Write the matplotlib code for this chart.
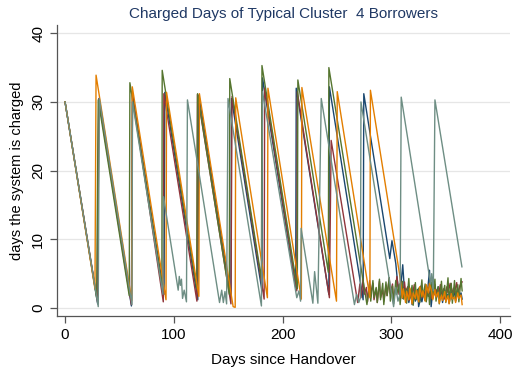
import matplotlib
matplotlib.use('Agg')
from matplotlib import pyplot as plt

plt.rcParams['font.family'] = ['Liberation Sans', 'DejaVu Sans']

# Stata s2color palette
colors = {'navy': '#1a476f', 'maroon': '#90353b', 'green': '#55752f',
          'orange': '#e37e00', 'teal': '#6e8e84'}

# (day, days charged) vertices
navy_days = [0, 30, 31, 61, 62, 91, 91.7, 122, 123, 152.5, 153, 181, 181.5,
             212, 212.5, 242.5, 243, 274, 274.6, 298.5, 300.5, 304, 306, 308,
             310.4, 312, 313, 315, 316, 318, 319, 321, 322, 324, 325, 327, 328,
             330, 331, 333, 335, 336.5, 338, 340, 341, 343, 344, 346, 347, 349,
             350, 352, 353, 355, 356, 358, 359, 361, 362, 364, 365]
navy_vals = [30, 0.6, 30.4, 0.3, 31, 2, 31.4, 1.2, 31, 1.5, 30.5, 2.5, 33.5,
             3, 32, 2, 32.2, 1.2, 31.2, 7.2, 9.8, 6.5, 3.2, 2, 6.3, 2.5, 1.2,
             2.6, 0.8, 2.2, 0.5, 1.8, 1, 2.7, 0.2, 1.6, 0.9, 2.4, 1.1, 2, 5.5,
             0.2, 2.4, 3.4, 2, 3.1, 1.4, 2.2, 0.8, 2.6, 1.5, 2, 0.7, 2.3, 1.2,
             2.5, 1, 2.8, 1.6, 2.2, 1.3]

maroon_days = [0, 30, 31, 61, 62, 90.3, 90.8, 121.2, 121.7, 152.5, 153.5, 183,
               183.5, 213, 213.5, 243, 244.6, 269, 271, 272, 274, 275, 277, 278,
               280, 281, 283, 284, 286, 287, 289, 290, 292, 293, 295, 296, 298,
               299, 301, 302, 304, 305, 307, 308, 310, 312, 313, 315, 316, 318,
               319, 321, 322, 324, 325, 327, 328, 330, 331, 333, 334, 336, 337,
               339, 340, 342, 343, 345, 346, 348, 349, 351, 352, 354, 355, 357,
               358, 360, 361, 363, 365]
maroon_vals = [30, 0.8, 30.5, 0.5, 31, 0.9, 31.2, 1, 31.1, 0.6, 30.8, 1.3,
               32, 2.5, 31.5, 1.5, 24.4, 0.8, 3.5, 1.5, 4.2, 2, 3, 0.9, 4, 2.2,
               3.6, 1.2, 2.8, 0.8, 3.9, 1.5, 2.6, 1, 3.3, 1.8, 4.4, 2.1, 3.5,
               1.2, 2.9, 4.6, 2, 3.6, 1.4, 3.8, 2.4, 3.1, 1.1, 2.7, 1.6, 3.4,
               1.3, 2.5, 1.8, 3.2, 1.5, 2.4, 1.2, 2.9, 1.7, 2.6, 1.4, 3, 1.9,
               2.7, 1.6, 3.4, 2, 2.8, 1.3, 3.1, 2.2, 3.6, 1.8, 2.9, 2.3, 3.7, 2,
               3.3, 3.8]

green_days = [0, 29, 30.5, 59, 59.6, 89, 89.3, 121, 121.8, 151, 151.4, 180.5,
              181, 213.5, 214, 242, 242.5, 277.5, 280, 281, 283, 284, 286, 287,
              289, 290, 292, 293, 295, 296, 298, 299, 301, 302, 304, 305, 307,
              308, 310, 311, 313, 314, 316, 317, 319, 320, 322, 323, 325, 326,
              328, 329, 331, 332, 334, 335, 337, 338, 340, 341, 343, 344, 346,
              347, 349, 350, 352, 353, 355, 356, 358, 359, 361, 362, 364, 365]
green_vals = [30, 1.5, 30.3, 1.8, 32.8, 3.4, 34.6, 2.9, 31.2, 2, 33.4, 4.3,
              35.3, 2.8, 33.2, 5.2, 35, 0.5, 3.5, 1, 4, 1.5, 3, 0.8, 4.2, 1.2,
              3.6, 0.5, 3.8, 1.8, 4.4, 1, 3.2, 0.6, 4, 2, 3.4, 0.5, 3.9, 1.3,
              2.8, 0.7, 4.3, 1.5, 3.3, 0.4, 3.7, 1.2, 2.9, 0.8, 4.1, 1.6, 3.5,
              0.9, 3, 0.5, 3.8, 1.4, 4.2, 1, 3.1, 0.6, 3.9, 1.7, 3.3, 0.8, 4.4,
              1.3, 3.6, 0.7, 4, 1.5, 3.4, 0.9, 4.3, 2.5]

orange_days = [0, 27.5, 28.5, 61.3, 61.8, 92.8, 93.3, 123, 123.5, 154.5,
               156.4, 156.9, 186, 186.5, 217.2, 217.7, 249.5, 250.2, 280.2,
               280.7, 308, 310, 311, 313, 314, 316, 317, 319, 320, 322, 323,
               325, 326, 328, 329, 331, 332, 334, 335, 337, 338, 340, 341, 343,
               344, 346, 347, 349, 350, 352, 353, 355, 356, 358, 359, 361, 362,
               364, 365]
orange_vals = [30, 2.8, 33.9, 1.1, 32.2, 1.2, 31.4, 1.7, 31.2, 0.2, 0.1, 30.6,
               1.5, 32, 1.3, 32.1, 1, 31.5, 1.5, 31.7, 4.4, 1.5, 2.8, 0.8, 2.4,
               1.2, 2.9, 0.6, 2.2, 1.4, 2.6, 0.9, 3.1, 1.7, 2.5, 1, 3.4, 2.2,
               3.6, 2.4, 1.2, 2.7, 1.6, 2.3, 0.7, 1.9, 1.1, 2.4, 0.9, 1.8, 0.6,
               2.1, 1.3, 1.6, 0.8, 2.2, 1.4, 1.9, 0.5]

teal_days = [0, 30.5, 31.5, 61.5, 62, 90, 90.5, 104, 105, 106, 107, 108,
             109.5, 111.6, 112.5, 142, 144, 145.5, 147, 148.5, 149.8, 180.5,
             181.5, 213, 215, 216.5, 217, 227.8, 229.4, 232.4, 235.5, 266, 268,
             270, 271.5, 272, 302, 304, 306, 308, 309, 336, 337, 338.5, 340,
             364.8]
teal_vals = [30, 0.2, 30.5, 0.5, 30, 2, 16.2, 2.6, 4.6, 3.3, 4.2, 1.4, 2.6,
             0.9, 30.3, 0.8, 2.6, 0.8, 2.4, 0.6, 30.5, 0.3, 31.5, 1.5, 2.5, 1,
             11.6, 0.7, 5.3, 0.7, 30.5, 0.5, 2, 0.8, 1.5, 30, 0.2, 3, 1, 2,
             30.7, 3.5, 5, 2.5, 30.3, 6]

series = [(navy_days, navy_vals, colors['navy']),
          (maroon_days, maroon_vals, colors['maroon']),
          (green_days, green_vals, colors['green']),
          (orange_days, orange_vals, colors['orange']),
          (teal_days, teal_vals, colors['teal'])]

fig = plt.figure(figsize=(5.12, 3.71), dpi=100)
ax = fig.add_axes([57 / 512, 55 / 371, 453 / 512, 291 / 371])

for days, vals, c in series:
    ax.plot(days, vals, color=c, lw=1.0)

ax.set_xlim(-7.4, 409)
ax.set_ylim(-1.16, 41.2)
ax.set_xticks([0, 100, 200, 300, 400])
ax.set_yticks([0, 10, 20, 30, 40])
ax.yaxis.grid(True, color='#e6e6e6', lw=0.9)
ax.set_axisbelow(True)
for s in ['top', 'right']:
    ax.spines[s].set_visible(False)
for s in ['left', 'bottom']:
    ax.spines[s].set_color('#555555')
    ax.spines[s].set_linewidth(0.9)
ax.tick_params(axis='both', colors='#555555', length=5, width=0.9,
               labelsize=11, labelcolor='black')
plt.setp(ax.get_yticklabels(), rotation=90, va='center')

ax.set_xlabel('Days since Handover', fontsize=11, labelpad=8)
ax.set_ylabel('days the system is charged', fontsize=10.5, labelpad=5)
ax.set_title('Charged Days of Typical Cluster  4 Borrowers', fontsize=11,
             color='#1f3864', pad=5)

fig.savefig('out.png', dpi=100)
